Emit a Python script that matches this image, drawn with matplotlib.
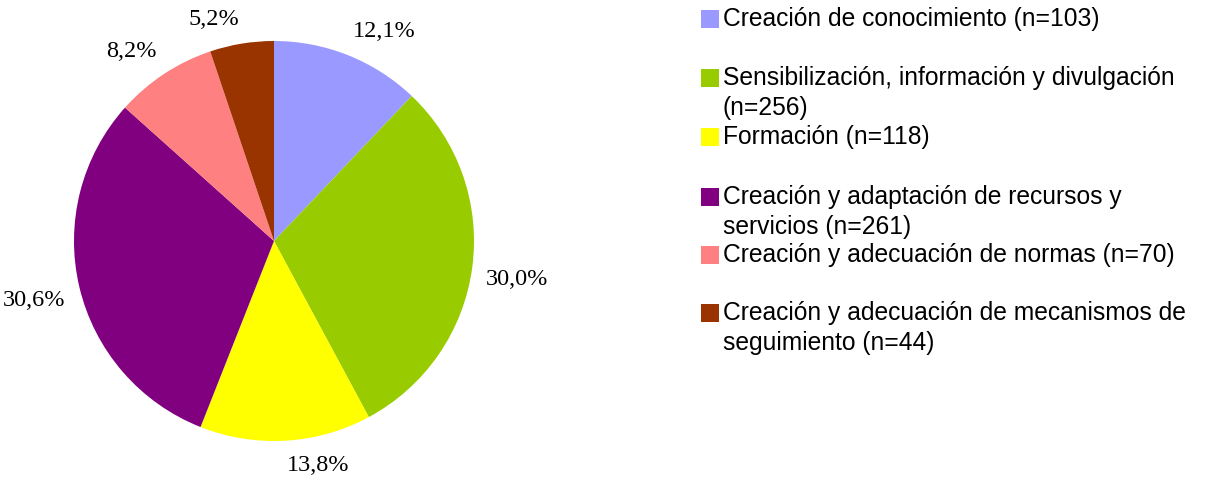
import numpy as np
import matplotlib.pyplot as plt
from matplotlib.patches import Rectangle

categorias = ['Creación de conocimiento (n=103)',
              'Sensibilización, información y divulgación\n(n=256)',
              'Formación (n=118)',
              'Creación y adaptación de recursos y\nservicios (n=261)',
              'Creación y adecuación de normas (n=70)',
              'Creación y adecuación de mecanismos de\nseguimiento (n=44)']
valores = [103, 256, 118, 261, 70, 44]
colores = ['#9999FF', '#99CC00', '#FFFF00', '#800080', '#FF8080', '#993300']

W, H = 1208, 484
fig = plt.figure(figsize=(W / 100, H / 100), dpi=100)

# pie axes: centre ~ (274, 241) px, radius 200 px
ax = fig.add_axes([74 / W, (H - 441) / H, 400 / W, 400 / H])

def pct(p):
    return ('%.1f%%' % p).replace('.', ',')

wedges, _, autotexts = ax.pie(valores, colors=colores, startangle=90,
                              counterclock=False, autopct=pct, radius=1,
                              textprops={'family': 'Liberation Serif', 'fontsize': 17.5})
# excel-like label placement: box corner just outside the rim
for w, t in zip(wedges, autotexts):
    ang = np.deg2rad((w.theta1 + w.theta2) / 2)
    c, s = np.cos(ang), np.sin(ang)
    t.set_position((1.07 * c, 1.07 * s))
    t.set_ha('left' if c > 0 else 'right')
    t.set_va('bottom' if s > 0 else 'top')
ax.set_xlim(-1, 1)
ax.set_ylim(-1, 1)
ax.set_aspect('equal')
ax.axis('off')

# legend drawn by hand to mimic the spacing
filas = [19, 78, 137, 197, 255, 313]
for cat, col, yc in zip(categorias, colores, filas):
    fig.patches.append(Rectangle((701 / W, 1 - (yc + 9) / H), 18 / W, 18 / H,
                                 transform=fig.transFigure, facecolor=col,
                                 edgecolor='none'))
    for j, linea in enumerate(cat.split('\n')):
        fig.text(723 / W, 1 - (yc + 30 * j) / H, linea, fontsize=17.7,
                 family='Liberation Sans', va='center', ha='left')

fig.savefig('out.png', dpi=100)
